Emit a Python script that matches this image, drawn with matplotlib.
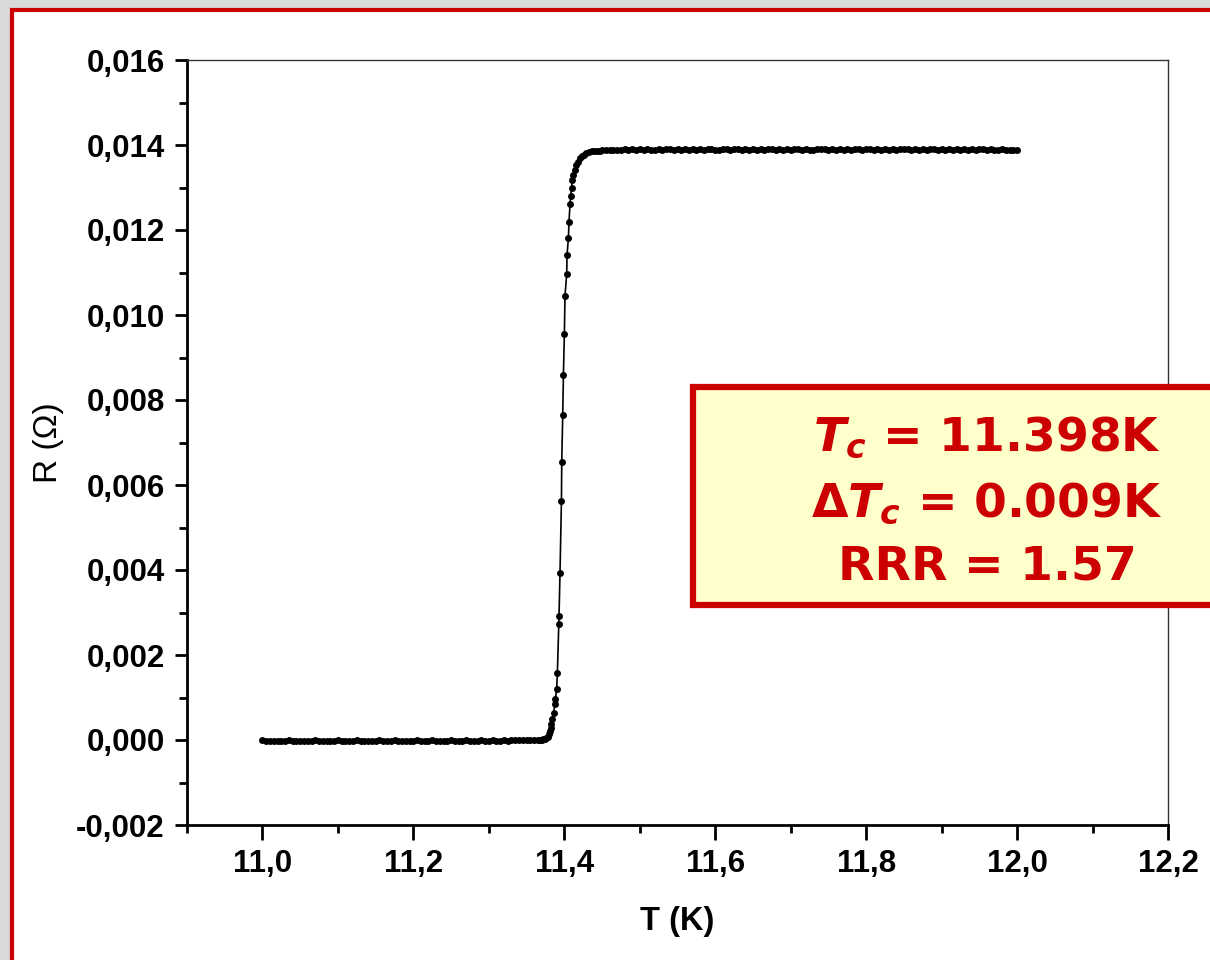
import matplotlib
matplotlib.use("Agg")
import matplotlib.pyplot as plt
from matplotlib.patches import Rectangle
from matplotlib.ticker import MultipleLocator, FuncFormatter

# ---------------- data ----------------
T_low = [11.000, 11.005, 11.010, 11.015, 11.020, 11.025, 11.030, 11.035, 11.040, 11.045,
         11.050, 11.055, 11.060, 11.065, 11.070, 11.075, 11.080, 11.085, 11.090, 11.095,
         11.100, 11.105, 11.110, 11.115, 11.120, 11.125, 11.130, 11.135, 11.140, 11.145,
         11.150, 11.155, 11.160, 11.165, 11.170, 11.175, 11.180, 11.185, 11.190, 11.195,
         11.200, 11.205, 11.210, 11.215, 11.220, 11.225, 11.230, 11.235, 11.240, 11.245,
         11.250, 11.255, 11.260, 11.265, 11.270, 11.275, 11.280, 11.285, 11.290, 11.295,
         11.300, 11.305, 11.310, 11.315, 11.320, 11.325, 11.330, 11.335, 11.340, 11.345,
         11.350, 11.355, 11.360, 11.365]
R_low = [-0.000010, -0.000018, -0.000022, -0.000015, -0.000012, -0.000020, -0.000016, -0.000011,
         -0.000019, -0.000014, -0.000017, -0.000021, -0.000013, -0.000016, -0.000010, -0.000018,
         -0.000015, -0.000012, -0.000020, -0.000014, -0.000011, -0.000017, -0.000013, -0.000019,
         -0.000016, -0.000010, -0.000015, -0.000018, -0.000012, -0.000014, -0.000020, -0.000011,
         -0.000016, -0.000013, -0.000017, -0.000010, -0.000015, -0.000019, -0.000012, -0.000014,
         -0.000016, -0.000011, -0.000018, -0.000013, -0.000015, -0.000010, -0.000017, -0.000012,
         -0.000014, -0.000019, -0.000011, -0.000016, -0.000013, -0.000015, -0.000010, -0.000017,
         -0.000012, -0.000014, -0.000011, -0.000016, -0.000013, -0.000010, -0.000015, -0.000012,
         -0.000009, -0.000013, -0.000010, -0.000008, -0.000011, -0.000007, -0.000009, -0.000006,
         -0.000005, -0.000004]

T_tr = [11.3680, 11.3700, 11.3720, 11.3740, 11.3760, 11.3784, 11.3800, 11.3810, 11.3820,
        11.3830, 11.3842, 11.3859, 11.3873, 11.3882, 11.3899, 11.3908, 11.3926, 11.3930,
        11.3943, 11.3962, 11.3966, 11.3979, 11.3988, 11.4001, 11.4009, 11.4032, 11.4036,
        11.4054, 11.4062, 11.4076, 11.4085, 11.4098, 11.4102, 11.4120, 11.4138, 11.4160,
        11.4180, 11.4204, 11.4230, 11.4260, 11.4293, 11.4330, 11.4370, 11.4410, 11.4450,
        11.4469, 11.4500, 11.4550, 11.4600, 11.4650, 11.4700, 11.4750]
R_tr = [-0.000002, 0.000005, 0.000012, 0.000025, 0.000045, 0.000078, 0.000140, 0.000210,
        0.000290, 0.000380, 0.000494, 0.000628, 0.000840, 0.000972, 0.001193, 0.001584,
        0.002722, 0.002911, 0.003937, 0.005624, 0.006548, 0.007640, 0.008581, 0.009560,
        0.010454, 0.010965, 0.011405, 0.011805, 0.012189, 0.012612, 0.012808, 0.012981,
        0.013177, 0.013300, 0.013412, 0.013520, 0.013610, 0.013687, 0.013740, 0.013775,
        0.013805, 0.013830, 0.013848, 0.013858, 0.013864, 0.013866, 0.013872, 0.013880,
        0.013886, 0.013889, 0.013892, 0.013894]

T_high = [11.480, 11.485, 11.490, 11.495, 11.500, 11.505, 11.510, 11.515, 11.520, 11.525,
          11.530, 11.535, 11.540, 11.545, 11.550, 11.555, 11.560, 11.565, 11.570, 11.575,
          11.580, 11.585, 11.590, 11.595, 11.600, 11.605, 11.610, 11.615, 11.620, 11.625,
          11.630, 11.635, 11.640, 11.645, 11.650, 11.655, 11.660, 11.665, 11.670, 11.675,
          11.680, 11.685, 11.690, 11.695, 11.700, 11.705, 11.710, 11.715, 11.720, 11.725,
          11.730, 11.735, 11.740, 11.745, 11.750, 11.755, 11.760, 11.765, 11.770, 11.775,
          11.780, 11.785, 11.790, 11.795, 11.800, 11.805, 11.810, 11.815, 11.820, 11.825,
          11.830, 11.835, 11.840, 11.845, 11.850, 11.855, 11.860, 11.865, 11.870, 11.875,
          11.880, 11.885, 11.890, 11.895, 11.900, 11.905, 11.910, 11.915, 11.920, 11.925,
          11.930, 11.935, 11.940, 11.945, 11.950, 11.955, 11.960, 11.965, 11.970, 11.975,
          11.980, 11.985, 11.990, 11.995, 12.000]
R_high = [0.013895, 0.013890, 0.013898, 0.013893, 0.013897, 0.013891, 0.013899, 0.013894,
          0.013890, 0.013897, 0.013893, 0.013900, 0.013895, 0.013891, 0.013898, 0.013894,
          0.013896, 0.013890, 0.013899, 0.013893, 0.013897, 0.013892, 0.013895, 0.013900,
          0.013894, 0.013891, 0.013898, 0.013895, 0.013893, 0.013899, 0.013896, 0.013891,
          0.013897, 0.013894, 0.013900, 0.013893, 0.013896, 0.013890, 0.013898, 0.013895,
          0.013892, 0.013899, 0.013894, 0.013897, 0.013891, 0.013896, 0.013900, 0.013893,
          0.013897, 0.013894, 0.013891, 0.013898, 0.013895, 0.013899, 0.013892, 0.013896,
          0.013893, 0.013900, 0.013894, 0.013897, 0.013891, 0.013898, 0.013895, 0.013893,
          0.013899, 0.013896, 0.013892, 0.013897, 0.013894, 0.013900, 0.013893, 0.013896,
          0.013891, 0.013898, 0.013895, 0.013899, 0.013893, 0.013896, 0.013892, 0.013897,
          0.013894, 0.013899, 0.013895, 0.013892, 0.013898, 0.013894, 0.013896, 0.013891,
          0.013897, 0.013894, 0.013899, 0.013893, 0.013896, 0.013892, 0.013897, 0.013895,
          0.013893, 0.013898, 0.013894, 0.013891, 0.013896, 0.013893, 0.013890, 0.013886,
          0.013878]

info_lines = [r"$T_c$ = 11.398K", r"$\mathit{\Delta}T_c$ = 0.009K", "RRR = 1.57"]

# ---------------- figure ----------------
W, H = 1210, 960
plt.rcParams['font.family'] = ['Liberation Sans', 'DejaVu Sans']
plt.rcParams['mathtext.fontset'] = 'custom'
plt.rcParams['mathtext.it'] = 'DejaVu Sans:italic:bold'
plt.rcParams['mathtext.rm'] = 'DejaVu Sans:bold'
plt.rcParams['mathtext.bf'] = 'DejaVu Sans:bold'

fig = plt.figure(figsize=(W / 100, H / 100), dpi=100, facecolor='#d9d9d9')

def fx(px):
    return px / W

def fy(py):
    return 1 - py / H

# white panel with red frame
frame = Rectangle((fx(12), fy(990)), fx(1250), fy(10) - fy(990), transform=fig.transFigure,
                  facecolor='white', edgecolor='#cc0000', linewidth=3.0, zorder=-5)
fig.add_artist(frame)

ax = fig.add_axes([fx(187), fy(825), fx(1168) - fx(187), fy(60) - fy(825)])
ax.set_facecolor('none')

T_all = T_low + T_tr + T_high
R_all = R_low + R_tr + R_high
ax.plot(T_all, R_all, color='black', lw=1.2, marker='o', markersize=5.0,
        markeredgewidth=0, zorder=3)

ax.set_xlim(10.9, 12.2)
ax.set_ylim(-0.002, 0.016)
ax.xaxis.set_major_locator(MultipleLocator(0.2))
ax.xaxis.set_minor_locator(MultipleLocator(0.1))
ax.yaxis.set_major_locator(MultipleLocator(0.002))
ax.yaxis.set_minor_locator(MultipleLocator(0.001))
ax.xaxis.set_major_formatter(FuncFormatter(lambda v, p: f"{v:.1f}".replace('.', ',')))
ax.yaxis.set_major_formatter(FuncFormatter(lambda v, p: f"{v:.3f}".replace('.', ',').replace('-0,000', '0,000')))

ax.tick_params(axis='y', which='major', direction='out', length=9, width=2,
               labelsize=22.5, pad=7, color='black')
ax.tick_params(axis='x', which='major', direction='out', length=11, width=2,
               labelsize=22.5, pad=6, color='black')
ax.tick_params(axis='y', which='minor', direction='out', length=5.5, width=2)
ax.tick_params(axis='x', which='minor', direction='out', length=6, width=2)
ax.tick_params(top=False, right=False, which='both')
for lab in ax.get_xticklabels() + ax.get_yticklabels():
    lab.set_fontweight('bold')

ax.spines['left'].set_linewidth(2)
ax.spines['bottom'].set_linewidth(2)
ax.spines['top'].set_linewidth(1)
ax.spines['right'].set_linewidth(1)
ax.spines['top'].set_color('#333333')
ax.spines['right'].set_color('#333333')

ax.set_xlabel("T (K)", fontsize=23.5, fontweight='bold', labelpad=20)
ax.set_ylabel("R (Ω)", fontsize=24, labelpad=9)

# annotation box
box = Rectangle((fx(693), fy(605)), fx(1260) - fx(693), fy(387) - fy(605),
                transform=fig.transFigure, facecolor='#ffffcc', edgecolor='#cc0000',
                linewidth=4.5, zorder=10)
fig.add_artist(box)
for txt, base in zip(info_lines, [451, 516, 580]):
    fig.text(fx(987), fy(base), txt, ha='center', va='baseline', fontsize=34,
             fontweight='bold', color='#cc0000', family='DejaVu Sans', zorder=11)

fig.savefig("out.png", dpi=100, facecolor=fig.get_facecolor())
